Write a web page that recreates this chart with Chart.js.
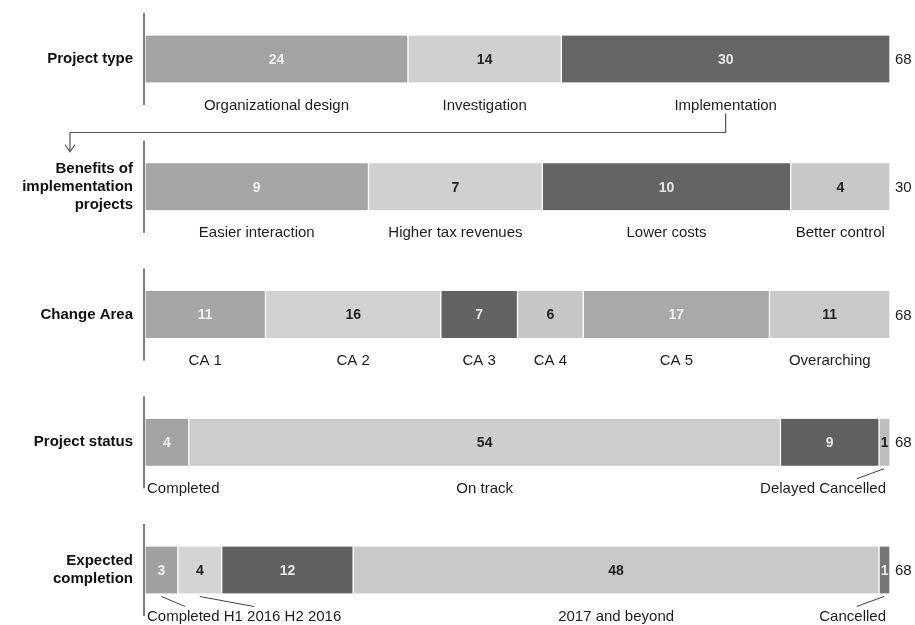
<!DOCTYPE html>
<html>
<head>
<meta charset="utf-8">
<script src="https://cdn.jsdelivr.net/npm/chart.js@4"></script>
<style>
  body { margin: 0; background: #fff; }
  #wrap { width: 915px; height: 625px; position: relative; }
</style>
</head>
<body>
<div id="wrap"><canvas id="projectChart"></canvas></div>
<script>
// Row titles (left axis)
const rowTitles = [
    ["Project type"],
    ["Benefits of", "implementation", "projects"],
    ["Change Area"],
    ["Project status"],
    ["Expected", "completion"]
];

// Segments for each row
const typeCats = ["Organizational design", "Investigation", "Implementation"];
const typeVals = [24, 14, 30];

const benefitCats = ["Easier interaction", "Higher tax revenues", "Lower costs", "Better control"];
const benefitVals = [9, 7, 10, 4];

const areaCats = ["CA 1", "CA 2", "CA 3", "CA 4", "CA 5", "Overarching"];
const areaVals = [11, 16, 7, 6, 17, 11];

const statusCats = ["Completed", "On track", "Delayed", "Cancelled"];
const statusVals = [4, 54, 9, 1];

const completionCats = ["Completed", "H1 2016", "H2 2016", "2017 and beyond", "Cancelled"];
const completionVals = [3, 4, 12, 48, 1];

// Totals shown at the right end of each bar
const rowTotals = [68, 30, 68, 68, 68];

const rowCats = [typeCats, benefitCats, areaCats, statusCats, completionCats];
const rowVals = [typeVals, benefitVals, areaVals, statusVals, completionVals];

// Styling (grey tones of the scan)
const rowColors = [
    ["#a3a3a3", "#cfcfcf", "#666666"],
    ["#a5a5a5", "#d0d0d0", "#646464", "#c8c8c8"],
    ["#a6a6a6", "#d2d2d2", "#636363", "#c6c6c6", "#a9a9a9", "#cacaca"],
    ["#a3a3a3", "#cdcdcd", "#606060", "#bdbdbd"],
    ["#a0a0a0", "#d4d4d4", "#606060", "#c9c9c9", "#767676"]
];
// c = centred under segment, l = packed from left, r = packed from right
const labelModes = {
    3: ["l", "c", "r", "r"],
    4: ["l", "l", "l", "c", "r"]
};
const leaderLines = { 3: [3], 4: [0, 1, 4] };

const FONT = "'Liberation Sans', Arial, sans-serif";

function textColorFor(bg) {
    const v = parseInt(bg.slice(1, 3), 16);
    if (v < 0x80) return "#e6e6e6";
    if (v < 0xb8) return "#eeeeee";
    return "#222222";
}

const segCount = Math.max(...rowVals.map(v => v.length));
const datasets = [];
for (let i = 0; i < segCount; i++) {
    datasets.push({
        data: rowVals.map((vals, r) => vals[i] != null ? vals[i] / rowTotals[r] * 100 : null),
        backgroundColor: ctx => (rowColors[ctx.dataIndex] || [])[ctx.datasetIndex] || "#ccc",
        borderColor: "#ffffff",
        borderWidth: { left: 1, right: 1, top: 0, bottom: 0 },
        borderSkipped: false,
        barThickness: 47,
        clip: false
    });
}

const annotate = {
    id: "annotate",
    afterDatasetsDraw(chart) {
        const { ctx, chartArea } = chart;
        ctx.save();
        const catY = [];

        rowVals.forEach((vals, r) => {
            const bars = vals.map((v, i) => chart.getDatasetMeta(i).data[r].getProps(["x", "base", "y", "height"], true));
            const cy = bars[0].y;
            const bottom = cy + bars[0].height / 2;

            // short axis line for the row
            ctx.strokeStyle = "#555";
            ctx.lineWidth = 1.5;
            ctx.beginPath();
            ctx.moveTo(chartArea.left - 1, cy - 46);
            ctx.lineTo(chartArea.left - 1, cy + 46);
            ctx.stroke();

            // values inside segments
            ctx.font = "bold 14px " + FONT;
            ctx.textAlign = "center";
            ctx.textBaseline = "middle";
            bars.forEach((b, i) => {
                ctx.fillStyle = textColorFor(rowColors[r][i]);
                ctx.fillText(String(vals[i]), (b.x + b.base) / 2, cy + 1);
            });

            // total
            ctx.font = "15px " + FONT;
            ctx.fillStyle = "#222";
            ctx.textAlign = "left";
            ctx.fillText(String(rowTotals[r]), chartArea.right + 5, cy + 1);

            // category labels under segments
            ctx.font = "15px " + FONT;
            const cats = rowCats[r];
            const widths = cats.map(c => ctx.measureText(c).width);
            const gap = ctx.measureText(" ").width;
            const xs = bars.map(b => (b.x + b.base) / 2);
            const modes = labelModes[r] || cats.map(() => "c");
            let cursor = chartArea.left + 2;
            modes.forEach((m, i) => {
                if (m === "l") { xs[i] = cursor + widths[i] / 2; cursor += widths[i] + gap; }
            });
            cursor = chartArea.right - 4;
            for (let i = modes.length - 1; i >= 0; i--) {
                if (modes[i] === "r") { xs[i] = cursor - widths[i] / 2; cursor -= widths[i] + gap; }
            }
            const ly = bottom + 23;
            ctx.fillStyle = "#1e1e1e";
            ctx.textAlign = "center";
            cats.forEach((c, i) => ctx.fillText(c, xs[i], ly));
            catY.push(ly);

            // leader lines for narrow segments
            ctx.strokeStyle = "#444";
            ctx.lineWidth = 1;
            (leaderLines[r] || []).forEach(i => {
                const sx = Math.min((bars[i].x + bars[i].base) / 2, chartArea.right - 6);
                ctx.beginPath();
                ctx.moveTo(sx, bottom + 3);
                ctx.lineTo(xs[i] + (sx < xs[i] ? 2 : 4), ly - 10);
                ctx.stroke();
            });
        });

        // elbow arrow from "Implementation" to the benefits row
        const impl = chart.getDatasetMeta(2).data[0].getProps(["x", "base"], true);
        const ax = (impl.x + impl.base) / 2;
        const ay = catY[0] + 8;
        const turnY = ay + 19;
        const tipX = chartArea.left - 75;
        const tipY = chart.getDatasetMeta(0).data[1].y - 35;
        ctx.strokeStyle = "#555";
        ctx.lineWidth = 1.2;
        ctx.beginPath();
        ctx.moveTo(ax, ay);
        ctx.lineTo(ax, turnY);
        ctx.lineTo(tipX, turnY);
        ctx.lineTo(tipX, tipY);
        ctx.moveTo(tipX - 5, tipY - 7);
        ctx.lineTo(tipX, tipY);
        ctx.lineTo(tipX + 5, tipY - 7);
        ctx.stroke();

        ctx.restore();
    }
};

function createProjectChart() {
    const ctx = document.getElementById("projectChart").getContext("2d");
    window.projectChart = new Chart(ctx, {
        type: "bar",
        data: { labels: rowTitles, datasets: datasets },
        options: {
            indexAxis: "y",
            responsive: true,
            maintainAspectRatio: false,
            animation: false,
            layout: { padding: { top: 59, bottom: 55, left: 0, right: 25 } },
            plugins: { legend: { display: false }, tooltip: { enabled: false } },
            scales: {
                x: { stacked: true, min: 0, max: 100, display: false },
                y: {
                    stacked: true,
                    offset: false,
                    grid: { display: false },
                    border: { display: false },
                    ticks: {
                        color: "#111",
                        padding: 4,
                        font: { family: FONT, size: 15, weight: "bold", lineHeight: 1.2 }
                    },
                    afterFit: scale => { scale.width = 145; }
                }
            }
        },
        plugins: [annotate]
    });
}

document.addEventListener("DOMContentLoaded", () => {
    createProjectChart();
});
</script>
</body>
</html>
